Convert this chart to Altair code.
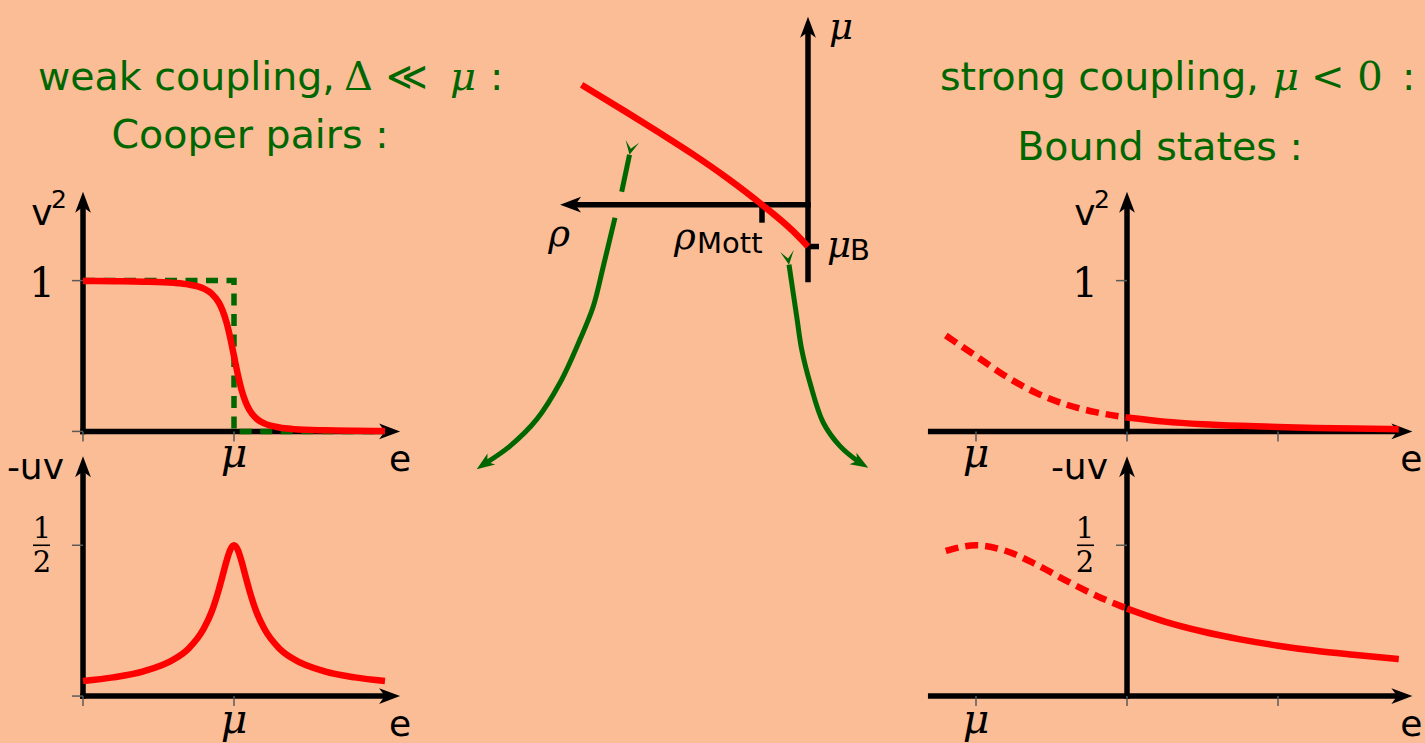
import math
import altair as alt
import pandas as pd

W, H = 1425, 743
BG = "#FABD96"
RED = "#FF0000"
GREEN = "#006600"
INK = "#000000"
TICK = "#5a5a5a"
SANS = "DejaVu Sans"
SERIF = "DejaVu Serif"

# ---------------- data ----------------
# weak coupling: energy e in units of mu (the Fermi step sits at e = 1)
weak_e = [0.0, 0.2, 0.4, 0.6, 0.7, 0.8, 0.85, 0.9, 0.925, 0.95, 0.975, 1.0,
          1.025, 1.05, 1.075, 1.1, 1.15, 1.2, 1.3, 1.4, 1.6, 1.8, 2.0]
weak_v2 = [0.998, 0.996, 0.993, 0.985, 0.974, 0.947, 0.916, 0.854, 0.800, 0.724, 0.621, 0.500,
           0.379, 0.276, 0.200, 0.146, 0.084, 0.053, 0.026, 0.015, 0.007, 0.004, 0.003]
weak_uv = [0.050, 0.062, 0.082, 0.121, 0.158, 0.224, 0.277, 0.354, 0.400, 0.447, 0.485, 0.500,
           0.485, 0.447, 0.400, 0.354, 0.277, 0.224, 0.158, 0.121, 0.082, 0.062, 0.050]
step_e = [0.0, 1.0, 1.0, 2.0]
step_v2 = [1.0, 1.0, 0.0, 0.0]

# strong coupling: energy e in units of |mu| (mu at e = -1); e < 0 is dashed
strong_e_dash = [-1.2, -1.0, -0.8, -0.6, -0.4, -0.2, 0.0]
strong_v2_dash = [0.636, 0.500, 0.364, 0.255, 0.177, 0.126, 0.092]
strong_uv_dash = [0.481, 0.500, 0.481, 0.436, 0.382, 0.332, 0.290]
strong_e = [0.0, 0.25, 0.5, 0.75, 1.0, 1.25, 1.5, 1.8]
strong_v2 = [0.092, 0.065, 0.048, 0.037, 0.029, 0.023, 0.019, 0.015]
strong_uv = [0.290, 0.247, 0.214, 0.188, 0.167, 0.150, 0.137, 0.123]

# crossover diagram: density rho (units of rho_Mott, growing to the left) vs mu
mott_rho = [4.92, 3.94, 3.22, 2.49, 1.77, 1.00, 0.32, 0.00]
mott_mu = [2.61, 2.01, 1.56, 1.09, 0.59, 0.00, -0.58, -0.91]
RHO_MOTT = 1.0
MU_B = -0.91

# flow arrows from the diagram down to the two regimes
flow_left_rho = [3.88, 4.05, 4.196, 4.45, 4.667, 4.957, 5.391, 5.898, 6.478, 7.202]
flow_left_mu = [1.087, 0.283, -0.283, -1.341, -2.211, -2.935, -3.876, -4.674, -5.254, -5.761]
flow_left_piece = [0, 0, 1, 1, 1, 1, 1, 1, 1, 1]
flow_right_rho = [0.413, 0.246, 0.137, -0.043, -0.333, -0.696, -1.130, -1.311]
flow_right_mu = [-1.304, -2.428, -3.152, -3.876, -4.746, -5.254, -5.615, -5.724]

# ---------------- layout ----------------
# each sub-figure: origin on the page and pixels per unit (x, y)
FRAMES = {
    "weak_v2": (83, 432, 151, 151),
    "weak_uv": (83, 697, 151, 302),
    "strong_v2": (1127, 432, 151, 151),
    "strong_uv": (1127, 697, 151, 302),
    "phase": (808, 205, -46, 46),
}


def page(frame, u, v):
    ox, oy, sx, sy = FRAMES[frame]
    return ox + sx * u, oy - sy * v


def unit(x0, y0, x1, y1):
    d = math.hypot(x1 - x0, y1 - y0)
    return (x1 - x0) / d, (y1 - y0) / d


def heading(ux, uy):
    return math.degrees(math.atan2(uy, ux)) % 360


# axes: frame, start (u, v), arrow tip (u, v)
AXES = [
    ("weak_v2", 0, 0, 2.1, 0), ("weak_v2", 0, 0, 0, 1.59),
    ("weak_uv", 0, 0, 2.1, 0), ("weak_uv", 0, 0, 0, 0.795),
    ("strong_v2", -1.3, 0, 1.89, 0), ("strong_v2", 0, 0, 0, 1.59),
    ("strong_uv", -1.3, 0, 1.89, 0), ("strong_uv", 0, 0, 0, 0.795),
    ("phase", 0, 0, 5.39, 0), ("phase", 0, -1.63, 0, 4.09),
]

# small tick marks: frame, u, v, side
TICKS = [
    ("weak_v2", 0, 0, "below"), ("weak_v2", 1, 0, "below"),
    ("weak_v2", 0, 0, "left"), ("weak_v2", 0, 1, "left"),
    ("weak_uv", 0, 0, "below"), ("weak_uv", 1, 0, "below"),
    ("weak_uv", 0, 0, "left"), ("weak_uv", 0, 0.5, "left"),
    ("strong_v2", -1, 0, "below"), ("strong_v2", 0, 0, "below"), ("strong_v2", 1, 0, "below"),
    ("strong_v2", 0, 1, "left"),
    ("strong_uv", -1, 0, "below"), ("strong_uv", 0, 0, "below"), ("strong_uv", 1, 0, "below"),
    ("strong_uv", 0, 0.5, "left"),
]

XS = alt.Scale(domain=[0, W], nice=False, zero=False)
YS = alt.Scale(domain=[0, H], nice=False, zero=False, reverse=True)


def X(f="x"):
    return alt.X(f"{f}:Q", scale=XS, axis=None)


def Y(f="y"):
    return alt.Y(f"{f}:Q", scale=YS, axis=None)


# ---------------- geometry rows ----------------
axis_rows, head_rows = [], []
for fr, u0, v0, u1, v1 in AXES:
    x0, y0 = page(fr, u0, v0)
    x1, y1 = page(fr, u1, v1)
    ux, uy = unit(x0, y0, x1, y1)
    axis_rows.append(dict(x=x0, y=y0, x2=x1 - 12 * ux, y2=y1 - 12 * uy))
    head_rows.append(dict(x=x1, y=y1, angle=heading(ux, uy)))

tick_rows = []
for fr, u, v, side in TICKS:
    x, y = page(fr, u, v)
    if side == "below":
        tick_rows.append(dict(x=x, y=y, x2=x, y2=y + 10))
    else:
        tick_rows.append(dict(x=x - 11, y=y, x2=x, y2=y))

# rho_Mott and mu_B markers on the crossover diagram
xm, ym = page("phase", RHO_MOTT, 0)
xb, yb = page("phase", 0, MU_B)
marker_rows = [dict(x=xm, y=ym, x2=xm, y2=ym + 18), dict(x=xb, y=yb, x2=xb + 11, y2=yb)]

# fraction bars of the 1/2 labels
bar_rows = []
for fr in ("weak_uv", "strong_uv"):
    x, y = page(fr, 0, 0.5)
    bar_rows.append(dict(x=x - 50, y=y, x2=x - 33, y2=y))


def curve(frame, us, vs, key):
    rows = []
    for i, (u, v) in enumerate(zip(us, vs)):
        x, y = page(frame, u, v)
        rows.append(dict(x=x, y=y, i=i, key=key))
    return rows


red_solid = (curve("weak_v2", weak_e, weak_v2, "a") + curve("weak_uv", weak_e, weak_uv, "b")
             + curve("strong_v2", strong_e, strong_v2, "c") + curve("strong_uv", strong_e, strong_uv, "d"))
red_dash = (curve("strong_v2", strong_e_dash, strong_v2_dash, "c")
            + curve("strong_uv", strong_e_dash, strong_uv_dash, "d"))
green_step = curve("weak_v2", step_e, step_v2, "s")
mott_line = curve("phase", mott_rho, mott_mu, "m")

# flow arrows: two pieces on the left (gap at the rho axis), one on the right
flow_rows, ghead_rows, gtail_rows = [], [], []
left = curve("phase", flow_left_rho, flow_left_mu, "L")
for r, p in zip(left, flow_left_piece):
    r["key"] = f"L{p}"
right = curve("phase", flow_right_rho, flow_right_mu, "R")
for pts in (left, right):
    tail_dir = unit(pts[0]["x"], pts[0]["y"], pts[1]["x"], pts[1]["y"])
    gtail_rows.append(dict(x=pts[0]["x"], y=pts[0]["y"], angle=heading(*tail_dir)))
    ux, uy = unit(pts[-2]["x"], pts[-2]["y"], pts[-1]["x"], pts[-1]["y"])
    ghead_rows.append(dict(x=pts[-1]["x"], y=pts[-1]["y"], angle=heading(ux, uy)))
    pts[-1] = dict(pts[-1], x=pts[-1]["x"] - 9 * ux, y=pts[-1]["y"] - 9 * uy)
    flow_rows += pts

# ---------------- labels ----------------
def lab(frame, u, v, dx, dy, text):
    x, y = page(frame, u, v)
    return dict(x=x + dx, y=y + dy, text=text)


def at(x, y, text):
    return dict(x=x, y=y, text=text)


title_left = [at(38, 90, "weak coupling,"), at(490, 90, ":"),
              at(940, 90, "strong coupling,"), at(1402, 90, ":")]
title_center = [at(250, 148, "Cooper pairs :"), at(1160, 160, "Bound states :")]
title_math = [at(344, 90, "Δ ≪"), at(1311, 90, "< 0")]
title_math_it = [at(450, 90, "μ"), at(1273, 90, "μ")]

axis_names = [lab("weak_v2", 0, 1.59, -41, 33, "v"), lab("weak_v2", 2.1, 0, 0, 40, "e"),
              lab("weak_uv", 2.1, 0, 0, 40, "e"),
              lab("strong_v2", 0, 1.59, -42, 33, "v"), lab("strong_v2", 1.89, 0, -1, 40, "e"),
              lab("strong_uv", 1.89, 0, -1, 40, "e")]
axis_uv = [lab("weak_uv", 0, 0.795, -19, 23, "-uv"), lab("strong_uv", 0, 0.795, -19, 23, "-uv")]
axis_sup = [lab("weak_v2", 0, 1.59, -32, 16, "2"), lab("strong_v2", 0, 1.59, -33, 16, "2")]
tick_one = [lab("weak_v2", 0, 1, -41, 16.5, "1"), lab("strong_v2", 0, 1, -42, 16.5, "1")]
tick_mu = [lab("weak_v2", 1, 0, 0, 36, "μ"), lab("weak_uv", 1, 0, 0, 37, "μ"),
           lab("strong_v2", -1, 0, 0, 36, "μ"), lab("strong_uv", -1, 0, 0, 37, "μ")]
tick_half = [lab("weak_uv", 0, 0.5, -41, -7, "1"), lab("weak_uv", 0, 0.5, -41, 27, "2"),
             lab("strong_uv", 0, 0.5, -42, -7, "1"), lab("strong_uv", 0, 0.5, -42, 27, "2")]
phase_it_left = [lab("phase", 0, 4.09, 21, 22, "μ"), lab("phase", RHO_MOTT, 0, -88, 44, "ρ"),
                 lab("phase", 0, MU_B, 19, 10, "μ")]
phase_it_center = [lab("phase", 5.39, 0, -1, 41, "ρ")]
phase_sub = [lab("phase", RHO_MOTT, 0, -65, 48, "Mott"), lab("phase", 0, MU_B, 42, 13, "B")]

# ---------------- marks ----------------
STEALTH = "M0,0 L-2,-0.75 L-1.45,0 L-2,0.75 Z"
FORK = "M0,0 L-2,-1 L-0.9,0 L-2,1 Z"


def rules(rows, **kw):
    return alt.Chart(pd.DataFrame(rows)).mark_rule(**kw).encode(x=X(), y=Y(), x2="x2:Q", y2="y2:Q")


def heads(rows, shape, size, color):
    return alt.Chart(pd.DataFrame(rows)).mark_point(
        shape=shape, size=size, filled=True, color=color, opacity=1, strokeWidth=0
    ).encode(x=X(), y=Y(), angle=alt.Angle("angle:Q", scale=None))


def lines(rows, **kw):
    return alt.Chart(pd.DataFrame(rows)).mark_line(**kw).encode(
        x=X(), y=Y(), order="i:Q", detail="key:N")


def texts(rows, **kw):
    kw.setdefault("baseline", "alphabetic")
    return alt.Chart(pd.DataFrame(rows)).mark_text(**kw).encode(x=X(), y=Y(), text="text:N")


layers = [
    rules(axis_rows, color=INK, strokeWidth=5.5, strokeCap="square"),
    rules(marker_rows, color=INK, strokeWidth=5.5),
    heads(head_rows, STEALTH, 441, INK),
    rules(tick_rows, color=TICK, strokeWidth=1.5),
    rules(bar_rows, color=INK, strokeWidth=1.6),
    lines(green_step, color=GREEN, strokeWidth=5.5, strokeDash=[12, 8.5], interpolate="linear"),
    lines(flow_rows, color=GREEN, strokeWidth=5, interpolate="catmull-rom"),
    heads(ghead_rows, STEALTH, 320, GREEN),
    heads(gtail_rows, FORK, 190, GREEN),
    lines(red_solid + mott_line, color=RED, strokeWidth=6.5, interpolate="monotone"),
    lines(red_dash, color=RED, strokeWidth=6.5, strokeDash=[13, 7], interpolate="monotone"),
    texts(title_left, font=SANS, fontSize=39.5, color=GREEN, align="left"),
    texts(title_center, font=SANS, fontSize=39.5, color=GREEN, align="center"),
    texts(title_math, font=SERIF, fontSize=40, color=GREEN, align="left"),
    texts(title_math_it, font=SERIF, fontSize=40, fontStyle="italic", color=GREEN, align="left"),
    texts(axis_names, font=SANS, fontSize=36, color=INK, align="center"),
    texts(axis_uv, font=SANS, fontSize=36, color=INK, align="right"),
    texts(axis_sup, font=SANS, fontSize=25, color=INK, align="left"),
    texts(tick_one, font=SERIF, fontSize=41, color=INK, align="center"),
    texts(tick_mu, font=SERIF, fontSize=41, fontStyle="italic", color=INK, align="center"),
    texts(tick_half, font=SERIF, fontSize=29, color=INK, align="center"),
    texts(phase_it_left, font=SERIF, fontSize=37, fontStyle="italic", color=INK, align="left"),
    texts(phase_it_center, font=SERIF, fontSize=37, fontStyle="italic", color=INK, align="center"),
    texts(phase_sub, font=SANS, fontSize=29, color=INK, align="left"),
]

chart = alt.layer(*layers).properties(
    width=W,
    height=H,
    autosize=alt.AutoSizeParams(type="fit", contains="padding"),
    padding=0,
    background=BG,
).configure_view(stroke=None)

chart.save("out.html", embed_options={"renderer": "svg", "actions": False})
